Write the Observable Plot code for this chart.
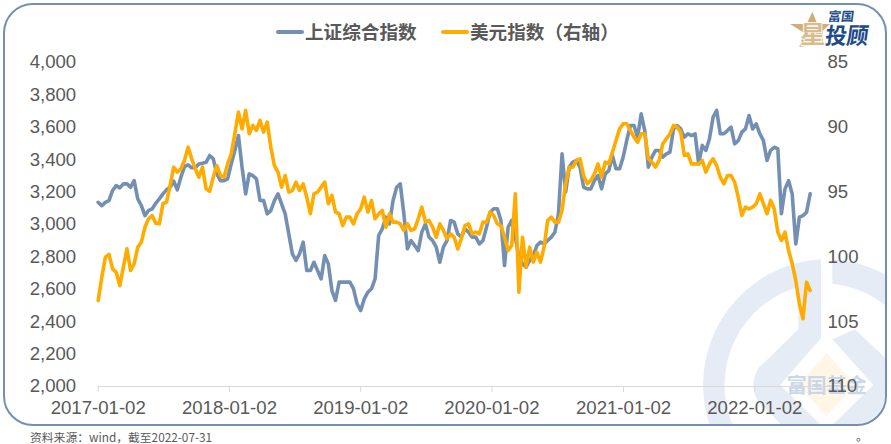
<!DOCTYPE html>
<html><head><meta charset="utf-8">
<script src="https://cdn.jsdelivr.net/npm/d3@7"></script>
<script src="https://cdn.jsdelivr.net/npm/@observablehq/plot@0.6"></script>
<style>
html,body{margin:0;padding:0;background:#fff;overflow:hidden}
#wrap{position:relative;width:891px;height:444px;overflow:hidden;font-family:"Liberation Sans",Arial,sans-serif;color:#595959}
#bg,#chart{position:absolute;left:0;top:0}
#frame{position:absolute;left:3px;top:3px;width:880px;height:419px;border:2px solid #7390B2;border-radius:30px;pointer-events:none}
.lg{position:absolute;top:19px;font:bold 18.6px/24px "Noto Sans CJK SC",sans-serif;color:#595959;white-space:nowrap}
.sw{position:absolute;top:30px;height:4px;width:28px;border-radius:2px}
#src{position:absolute;left:30px;top:430px;font:11.8px/14px "Noto Sans CJK SC",sans-serif;color:#595959;white-space:nowrap}
#dot{position:absolute;left:856px;top:428px;font:12px/15px "Noto Sans CJK SC",sans-serif;color:#595959}
</style></head><body>
<div id="wrap">
<svg id="bg" width="891" height="444" viewBox="0 0 891 444">
  <defs><clipPath id="fc"><rect x="4" y="4" width="881" height="420" rx="30"/></clipPath></defs>
  <g clip-path="url(#fc)"><g transform="translate(695,250) scale(0.3333)">
    <path fill="#E6ECF6" d="M378,28 A377.4,377.4 0 0 0 395,782 L395,711 A306,306 0 0 1 310,111 L310,238 L190,355 Q160,405 190,455 L310,575 L378,575 L378,525 L255,405 L378,265 Z"/>
    <path fill="#E6ECF6" d="M412,28 A377.4,377.4 0 0 1 395,782 L395,711 A306,306 0 0 0 412,101 Z"/>
    <path fill="#E6ECF6" d="M412,268 L480,238 L610,360 L610,600 L412,600 L412,525 L535,405 Z"/>
    <path fill="#FFF6E6" d="M395,310 L482,405 L395,498 L308,405 Z"/>
    <text x="395" y="428" text-anchor="middle" font-family="Noto Sans CJK SC" font-weight="700" font-size="60" fill="#CAD7EA">富国基金</text>
  </g></g>
  <g transform="translate(780,0) scale(0.3333)">
    <path fill="#CFAE78" d="M97,35 L112,72 L150,72 L128,92 L128,130 L58,141 L72,98 L30,72 L80,72 Z"/>
    <text x="60" y="130" font-family="Noto Sans CJK SC" font-weight="700" font-size="70" fill="#D8BC8E" stroke="#fff" stroke-width="5" paint-order="stroke" textLength="76" lengthAdjust="spacingAndGlyphs">星</text>
    <text x="143" y="62" font-family="Noto Sans CJK SC" font-weight="700" font-size="38" fill="#1F4E8C" textLength="78" lengthAdjust="spacingAndGlyphs" transform="skewX(-8) translate(8,0)">富国</text>
    <text x="135" y="132" font-family="Noto Sans CJK SC" font-weight="700" font-size="68" fill="#1D4A8A" textLength="130" lengthAdjust="spacingAndGlyphs" transform="skewX(-8) translate(16,0)">投顾</text>
  </g>
</svg>
<div id="chart"></div>
<div id="frame"></div>
<div class="sw" style="left:276px;background:#7390B2"></div>
<div class="lg" style="left:305px">上证综合指数</div>
<div class="sw" style="left:441px;background:#FFAB00"></div>
<div class="lg" style="left:470px">美元指数（右轴）</div>
<div id="src">资料来源：wind，截至2022-07-31</div>
<div id="dot">。</div>
</div>
<script>
const startDate = "2017-01-02";
const axisEndDate = "2022-07-31";
const xTickLabels = ["2017-01-02","2018-01-02","2019-01-02","2020-01-02","2021-01-02","2022-01-02"];
const leftTicks = [2000,2200,2400,2600,2800,3000,3200,3400,3600,3800,4000];
const rightTicks = [85,90,95,100,105,110];
// one reading every 10 days from the start date
const shanghai = [
3137,3117,3137,3148,3210,3240,3226,3251,3251,3230,3271,3158,3117,3055,3086,3096,3131,3158,3189,3214,
3230,3267,3214,3292,3358,3368,3350,3350,3374,3378,3384,3426,3405,3312,3271,3271,3282,3374,3457,3549,
3354,3189,3313,3302,3282,3148,3148,3066,3086,3148,3189,3128,3066,2942,2819,2778,2819,2891,2716,2716,
2767,2716,2664,2808,2757,2592,2531,2644,2644,2644,2644,2603,2510,2469,2541,2582,2603,2664,2932,2973,
3045,3004,3148,3230,3251,3066,2850,2901,2870,2839,2953,3004,2922,2901,2860,2767,2860,2901,3025,3014,
2942,2922,2973,2953,2922,2922,2880,2901,2984,3076,3097,3097,3025,2747,2983,3025,2922,2798,2757,2736,
2778,2808,2870,2891,2880,2901,2922,2952,3066,3436,3200,3354,3385,3395,3354,3230,3220,3220,3271,3302,
3220,3313,3333,3426,3344,3344,3416,3520,3611,3611,3539,3683,3580,3354,3416,3457,3457,3416,3436,3446,
3590,3611,3590,3539,3560,3549,3560,3374,3488,3457,3529,3662,3704,3560,3560,3580,3601,3498,3518,3570,
3590,3673,3590,3621,3560,3518,3395,3457,3477,3467,3066,3220,3271,3189,2880,3045,3055,3076,3189];
const usdIndex = [
103.37,101.56,100.02,99.81,100.92,101.18,102.21,100.79,99.38,101.05,100.53,99.25,98.86,97.71,97.06,96.81,97.40,97.45,95.90,95.78,
94.49,93.08,93.46,93.20,92.56,91.53,92.43,93.20,93.85,93.08,94.75,94.93,93.85,92.95,93.72,93.85,92.82,92.05,90.50,88.83,
90.12,88.70,90.50,89.86,90.24,89.47,90.37,89.60,91.53,92.95,93.46,94.62,93.72,95.00,94.87,94.23,94.87,94.36,95.39,96.67,
95.13,95.00,94.62,94.23,95.90,95.26,96.55,96.67,97.58,96.93,96.93,97.45,96.67,96.29,95.39,96.55,95.65,97.06,96.68,96.42,
97.71,96.68,97.32,97.32,97.45,97.96,97.45,97.96,97.83,97.06,96.16,97.32,97.19,97.71,98.48,97.45,97.96,98.60,98.22,98.48,
99.38,98.60,97.58,97.45,98.22,98.09,98.22,97.32,97.32,96.55,96.81,97.45,97.58,98.48,99.51,99.12,95.13,102.72,98.48,100.79,
99.25,100.40,99.63,100.40,99.25,97.19,96.93,97.32,97.32,96.42,94.36,93.08,93.08,92.56,92.43,93.72,94.36,94.10,93.59,92.82,
93.85,92.69,92.82,91.92,91.02,90.12,89.73,89.73,90.24,90.76,91.15,90.50,90.50,92.43,92.69,93.07,92.56,91.27,90.89,90.50,
89.86,89.99,90.37,92.17,92.05,92.82,92.82,92.82,92.56,93.46,92.82,92.43,92.95,93.85,94.36,93.72,93.72,94.23,95.39,96.80,
96.16,96.29,96.16,95.90,95.13,95.90,96.67,95.64,96.29,98.09,98.73,98.09,99.50,100.53,101.82,103.62,104.78,101.95,102.59];

const parse = d3.utcParse("%Y-%m-%d");
const fmt = d3.utcFormat("%Y-%m-%d");
const t0 = parse(startDate);
const tEnd = parse(axisEndDate);
const dates = shanghai.map((_, i) => d3.utcDay.offset(t0, i * 10));
const usdToLeft = d3.scaleLinear().domain([85, 110]).range([4000, 2000]);
const shRows = shanghai.map((v, i) => ({date: dates[i], v}));
const usdRows = usdIndex.map((v, i) => ({date: dates[i], v: usdToLeft(v)}));
const ink = "#595959";
const plot = Plot.plot({
  width: 891, height: 444,
  marginLeft: 97.7, marginRight: 69, marginTop: 62, marginBottom: 58,
  style: {background: "transparent", fontFamily: '"Liberation Sans",Arial,sans-serif', fontSize: "18.6px"},
  x: {type: "utc", domain: [t0, tEnd], range: [97.7, 829.8]},
  y: {domain: [2000, 4000], range: [386, 62]},
  marks: [
    Plot.ruleY([2000], {x1: () => t0, x2: () => tEnd, stroke: "#D9D9D9", strokeWidth: 1.2}),
    Plot.line(shRows, {x: "date", y: "v", stroke: "#7390B2", strokeWidth: 3.6, strokeLinejoin: "round"}),
    Plot.line(usdRows, {x: "date", y: "v", stroke: "#FFAB00", strokeWidth: 3.6, strokeLinejoin: "round"}),
    Plot.axisX(xTickLabels.map(parse), {tickSize: 6, tickPadding: 8, stroke: "#D9D9D9", fill: ink, tickFormat: fmt, label: null}),
    Plot.axisY(leftTicks, {anchor: "left", tickSize: 0, tickPadding: 22, fill: ink, tickFormat: d3.format(","), label: null}),
    Plot.axisY(rightTicks.map(usdToLeft), {anchor: "right", tickSize: 0, tickPadding: 5, fill: ink, tickFormat: d => String(Math.round(usdToLeft.invert(d))), label: null})
  ]
});
document.getElementById("chart").appendChild(plot);
</script>
</body></html>
